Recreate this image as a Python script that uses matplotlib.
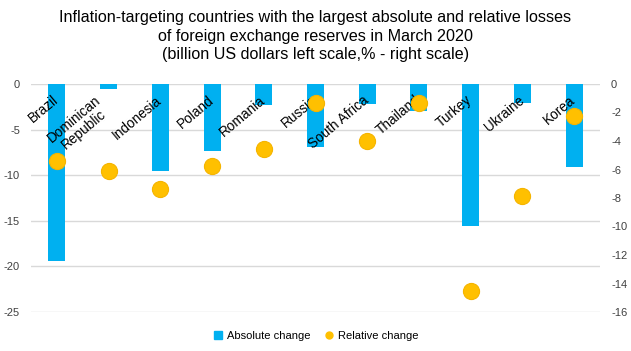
import matplotlib
matplotlib.use("Agg")
import matplotlib.pyplot as plt
from matplotlib.lines import Line2D
import numpy as np

plt.rcParams['font.family'] = ['Liberation Sans', 'DejaVu Sans']

categories = ["Brazil", "Dominican\nRepublic", "Indonesia", "Poland", "Romania", "Russia",
              "South Africa", "Thailand", "Turkey", "Ukraine", "Korea"]
absolute_change = [-19.4, -0.6, -9.5, -7.35, -2.3, -6.9, -2.2, -3.0, -15.6, -2.1, -9.1]
relative_change = [-5.43, -6.13, -7.35, -5.73, -4.56, -1.36, -3.98, -1.31, -14.5, -7.84, -2.25]
left_ticks = [0, -5, -10, -15, -20, -25]
right_ticks = [0, -2, -4, -6, -8, -10, -12, -14, -16]

title = ("Inflation-targeting countries with the largest absolute and relative losses\n"
         "of foreign exchange reserves in March 2020\n"
         "(billion US dollars left scale,% - right scale)")

W, H = 631, 351
fig = plt.figure(figsize=(W / 100, H / 100), dpi=100)
ax = fig.add_axes([31 / W, (H - 312) / H, (600 - 31) / W, (312 - 84) / H])
ax2 = ax.twinx()

x = np.arange(len(categories))
bar_color = "#00B0F0"
dot_color = "#FFC000"

ax.bar(x, absolute_change, width=0.33, color=bar_color, zorder=2)
ax.set_ylim(-25, 0)
ax.set_xlim(-0.5, len(categories) - 0.5)
ax.set_yticks(left_ticks)
ax.set_yticklabels([str(t) for t in left_ticks])
ax.yaxis.grid(True, color="#D9D9D9", linewidth=1.0, zorder=0)
ax.set_axisbelow(True)
ax.set_xticks([])
for s in ax.spines.values():
    s.set_visible(False)
ax.tick_params(axis='y', length=0, labelsize=8, labelcolor="#404040", pad=8)

ax2.scatter(x, relative_change, s=135, color=dot_color, edgecolors="#F5B400",
            linewidths=0.8, zorder=3)
ax2.set_ylim(-16, 0)
ax2.set_yticks(right_ticks)
ax2.set_yticklabels([str(t) for t in right_ticks])
for s in ax2.spines.values():
    s.set_visible(False)
ax2.tick_params(axis='y', length=0, labelsize=8, labelcolor="#404040", pad=8)

for i, lab in enumerate(categories):
    ax.text(i + 0.08, -1.0, lab, rotation=40, ha='right', va='top',
            fontsize=9.8, color="black", zorder=4, linespacing=1.0,
            multialignment='center')

fig.text(0.5, 1 - 10 / H, title, ha='center', va='top', fontsize=11.6,
         color="black", linespacing=1.3)

handles = [Line2D([], [], marker='s', linestyle='none', color=bar_color, markersize=5.5),
           Line2D([], [], marker='o', linestyle='none', color=dot_color, markersize=5)]
fig.legend(handles, ["Absolute change", "Relative change"], loc='center',
           bbox_to_anchor=(0.5, (H - 336) / H), ncol=2, frameon=False,
           fontsize=8, handletextpad=0.3, columnspacing=1.2, handlelength=1.0)

fig.savefig("out.png", dpi=100)
